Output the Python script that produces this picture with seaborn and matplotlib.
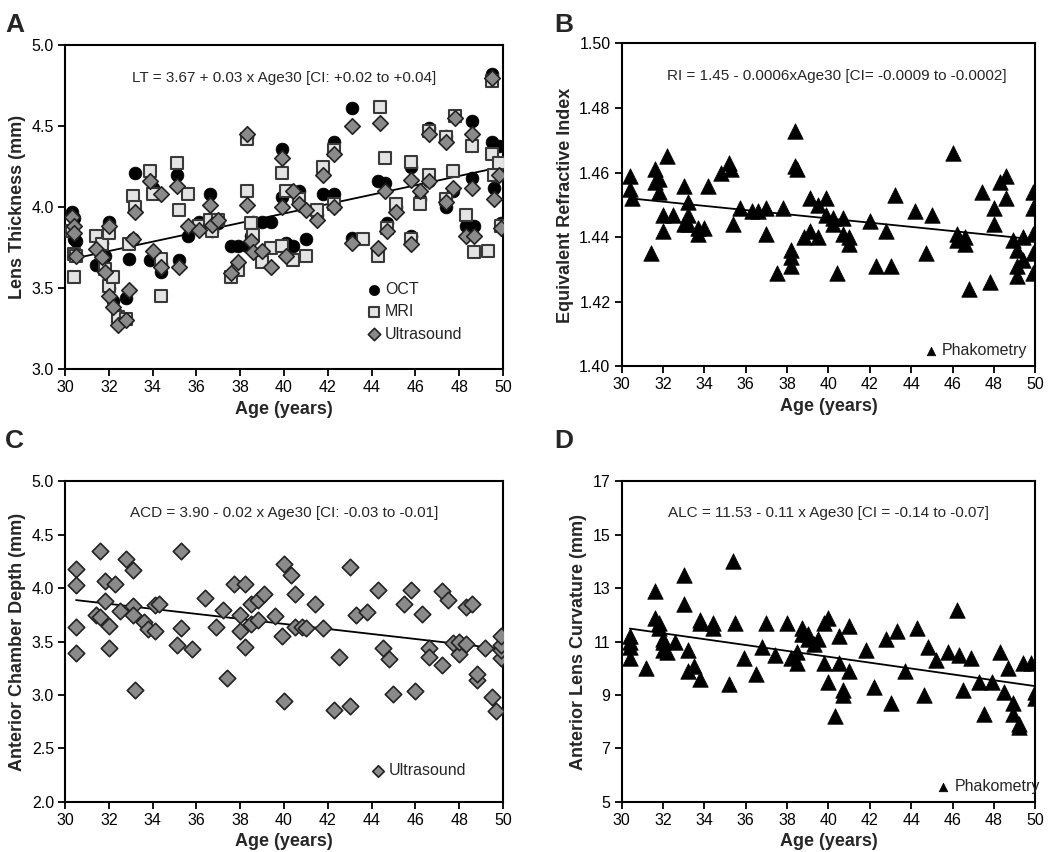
import numpy as np
import pandas as pd
import seaborn as sns
import matplotlib.pyplot as plt
from matplotlib.ticker import MultipleLocator, FormatStrFormatter

nan = np.nan

# Panel A - lens thickness (mm), one entry per subject
age_a = [30.3, 30.4, 30.4, 30.5, 31.4, 31.7, 31.8, 32.0, 32.0, 32.2, 32.4, 32.8, 32.9, 33.1, 33.2,
         33.9, 34.0, 34.4, 34.4, 35.1, 35.2, 35.6, 36.1, 36.6, 36.7, 37.0, 37.6, 37.9, 38.3, 38.3,
         38.5, 38.6, 39.0, 39.4, 39.9, 39.9, 40.1, 40.4, 40.7, 41.0, 41.5, 41.8, 42.3, 42.3, 43.1,
         43.1, 43.6, 44.3, 44.4, 44.6, 44.7, 45.1, 45.8, 45.8, 46.2, 46.6, 46.6, 47.4, 47.4, 47.7,
         47.8, 48.3, 48.6, 48.6, 48.7, 49.3, 49.5, 49.5, 49.6, 49.8, 49.9]
oct_lt = [3.97, 3.93, 3.80, 3.79, 3.64, 3.78, 3.70, 3.91, 3.50, 3.42, 3.33, 3.44, 3.68, 3.80, 4.21,
          3.67, 4.12, 3.65, 3.60, 4.20, 3.67, 3.82, 3.91, 4.08, 3.85, 3.90, 3.76, 3.76, 4.43, 3.76,
          3.82, 3.91, 3.91, 3.91, 4.36, 4.06, 3.78, 3.76, 4.10, 3.80, 3.95, 4.08, 4.40, 4.08, 4.61,
          3.81, nan, 4.16, nan, 4.15, 3.90, 4.00, 4.25, 3.82, 4.05, 4.49, 4.16, 4.44, 4.00, 4.10,
          nan, 3.88, 4.53, 4.18, 3.88, nan, 4.82, 4.40, 4.12, 4.38, 3.90]
mri_lt = [3.85, 3.71, 3.57, 3.70, 3.82, 3.77, 3.62, 3.84, 3.51, 3.57, 3.32, 3.31, 3.77, 4.07, 4.00,
          4.22, 4.08, 3.45, 3.68, 4.27, 3.98, 4.08, 3.88, 3.92, 3.85, 3.92, 3.57, 3.61, 4.42, 4.10,
          3.90, 3.83, 3.66, 3.75, 4.21, 3.76, 4.10, 3.67, 4.05, 3.70, 3.98, 4.25, 4.35, 4.02, nan,
          nan, 3.80, 3.70, 4.62, 4.30, 3.87, 4.02, 4.28, 3.80, 4.02, 4.47, 4.20, 4.43, 4.05, 4.22,
          4.56, 3.95, nan, 4.38, 3.72, 3.73, 4.78, 4.33, 4.20, 4.27, 3.88]
us_lt = [3.94, 3.88, 3.84, 3.70, 3.74, 3.69, 3.60, 3.88, 3.45, 3.38, 3.27, 3.30, 3.49, 3.80, 3.97,
         4.16, 3.73, 3.63, 4.08, 4.13, 3.63, 3.88, 3.86, 4.01, 3.89, 3.92, 3.59, 3.66, 4.45, 4.01,
         3.79, 3.72, 3.73, 3.63, 4.30, 4.00, 3.70, 4.10, 4.02, 3.98, 3.92, 4.20, 4.33, 4.00, 4.50,
         3.78, nan, 3.75, 4.52, 4.10, 3.85, 3.97, 4.17, 3.77, 4.10, 4.45, 4.16, 4.40, 4.03, 4.12,
         4.55, 3.82, 4.45, 4.12, 3.82, nan, 4.80, nan, 4.05, 4.20, 3.87]

# Panel B - equivalent refractive index (phakometry)
age_b = [30.4, 30.4, 30.5, 31.4, 31.6, 31.6, 31.8, 31.8, 32.0, 32.0, 32.2, 32.5, 33.0, 33.0, 33.2,
         33.2, 33.2, 33.7, 33.7, 34.0, 34.2, 34.8, 35.2, 35.3, 35.4, 35.7, 36.3, 36.6, 37.0, 37.0,
         37.5, 37.8, 38.2, 38.2, 38.2, 38.4, 38.4, 38.5, 38.8, 39.1, 39.1, 39.5, 39.5, 39.9, 39.9,
         40.2, 40.2, 40.4, 40.7, 40.7, 41.0, 41.0, 42.0, 42.3, 42.8, 43.0, 43.2, 44.2, 44.7, 45.0,
         46.0, 46.2, 46.2, 46.6, 46.6, 46.8, 47.4, 47.8, 48.0, 48.0, 48.3, 48.6, 48.6, 48.9, 49.1,
         49.1, 49.1, 49.4, 49.4, 49.9, 49.9, 49.9, 49.9, 49.9]
ri = [1.459, 1.455, 1.452, 1.435, 1.461, 1.457, 1.458, 1.454, 1.442, 1.447, 1.465, 1.447, 1.456,
      1.444, 1.451, 1.444, 1.447, 1.443, 1.441, 1.443, 1.456, 1.460, 1.463, 1.461, 1.444, 1.449,
      1.448, 1.448, 1.449, 1.441, 1.429, 1.449, 1.436, 1.434, 1.431, 1.473, 1.462, 1.461, 1.440,
      1.452, 1.442, 1.440, 1.450, 1.452, 1.447, 1.446, 1.444, 1.429, 1.446, 1.441, 1.440, 1.438,
      1.445, 1.431, 1.442, 1.431, 1.453, 1.448, 1.435, 1.447, 1.466, 1.441, 1.439, 1.440, 1.438,
      1.424, 1.454, 1.426, 1.449, 1.444, 1.457, 1.459, 1.452, 1.439, 1.428, 1.431, 1.436, 1.433,
      1.440, 1.454, 1.449, 1.441, 1.435, 1.429]

# Panel C - anterior chamber depth (ultrasound)
age_c = [30.5, 30.5, 30.5, 30.5, 31.4, 31.6, 31.6, 31.8, 31.8, 32.0, 32.0, 32.3, 32.5, 32.8, 33.1,
         33.1, 33.1, 33.2, 33.6, 33.8, 34.1, 34.1, 34.3, 35.1, 35.3, 35.3, 35.8, 36.4, 36.9, 37.2,
         37.4, 37.7, 38.0, 38.0, 38.2, 38.2, 38.5, 38.5, 38.8, 38.8, 39.1, 39.6, 39.9, 40.0, 40.0,
         40.3, 40.5, 40.5, 40.8, 41.0, 41.4, 41.8, 42.3, 42.5, 43.0, 43.0, 43.3, 43.8, 44.3, 44.5,
         44.8, 45.0, 45.5, 45.8, 46.0, 46.3, 46.6, 46.6, 47.2, 47.2, 47.5, 47.7, 48.0, 48.0, 48.3,
         48.3, 48.6, 48.8, 48.8, 49.2, 49.5, 49.7, 49.9, 49.9, 49.9, 49.9]
acd = [4.18, 4.03, 3.64, 3.39, 3.75, 4.35, 3.73, 4.07, 3.88, 3.44, 3.65, 4.04, 3.79, 4.27, 4.17,
       3.83, 3.75, 3.05, 3.68, 3.62, 3.60, 3.84, 3.85, 3.47, 4.35, 3.63, 3.43, 3.91, 3.64, 3.80,
       3.16, 4.04, 3.75, 3.60, 3.45, 4.04, 3.85, 3.66, 3.89, 3.70, 3.95, 3.74, 3.55, 2.94, 4.23,
       4.12, 3.95, 3.64, 3.64, 3.63, 3.85, 3.63, 2.86, 3.36, 4.20, 2.90, 3.75, 3.78, 3.98, 3.44,
       3.34, 3.01, 3.85, 3.98, 3.04, 3.76, 3.44, 3.36, 3.97, 3.28, 3.89, 3.49, 3.38, 3.50, 3.82,
       3.48, 3.85, 3.14, 3.20, 3.44, 2.98, 2.85, 3.35, 3.42, 3.47, 3.55]

# Panel D - anterior lens curvature (phakometry)
age_d = [30.4, 30.4, 30.4, 30.4, 31.2, 31.6, 31.6, 31.8, 31.8, 32.0, 32.0, 32.0, 32.2, 32.6, 33.0,
         33.0, 33.2, 33.2, 33.5, 33.8, 33.8, 33.8, 34.4, 34.4, 35.2, 35.4, 35.5, 35.9, 36.5, 36.8,
         37.0, 37.4, 38.0, 38.2, 38.5, 38.5, 38.7, 38.7, 39.0, 39.0, 39.3, 39.5, 39.8, 39.8, 40.0,
         40.0, 40.3, 40.5, 40.5, 40.7, 40.7, 41.0, 41.0, 41.8, 42.2, 42.8, 43.0, 43.3, 43.7, 44.3,
         44.6, 44.8, 45.2, 45.8, 46.2, 46.3, 46.5, 46.9, 47.3, 47.5, 47.9, 48.3, 48.5, 48.7, 48.9,
         48.9, 49.2, 49.2, 49.4, 49.8, 50.0, 50.0]
alc = [11.0, 11.2, 10.8, 10.4, 10.0, 11.9, 12.9, 11.7, 11.5, 11.1, 11.0, 10.7, 10.6, 11.0, 12.4,
       13.5, 9.9, 10.7, 10.1, 9.6, 11.7, 11.8, 11.7, 11.5, 9.4, 14.0, 11.7, 10.4, 9.8, 10.8,
       11.7, 10.5, 11.7, 10.4, 10.6, 10.2, 11.5, 11.3, 11.3, 11.1, 10.9, 11.1, 10.2, 11.7, 11.9,
       9.5, 8.2, 10.2, 11.2, 9.0, 9.2, 9.9, 11.6, 10.7, 9.3, 11.1, 8.7, 11.4, 9.9, 11.5,
       9.0, 10.8, 10.3, 10.6, 12.2, 10.5, 9.2, 10.4, 9.5, 8.3, 9.5, 10.6, 9.1, 10.0, 8.7,
       8.3, 7.8, 7.9, 10.2, 10.2, 9.1, 8.9]

# regression coefficients (value = b0 + b1 * (age - 30))
fit_a = (3.67, 0.029)
fit_b = (1.4523, -0.00065)
fit_c = (3.90, -0.0235)
fit_d = (11.53, -0.11)

eq_a = "LT = 3.67 + 0.03 x Age30 [CI: +0.02 to +0.04]"
eq_b = "RI = 1.45 - 0.0006xAge30 [CI= -0.0009 to -0.0002]"
eq_c = "ACD = 3.90 - 0.02 x Age30 [CI: -0.03 to -0.01]"
eq_d = "ALC = 11.53 - 0.11 x Age30 [CI = -0.14 to -0.07]"

ticks_d = [5, 7, 9, 11, 13, 15, 17]

sns.set_style("ticks")
plt.rcParams['font.family'] = ['Liberation Sans', 'DejaVu Sans']

fig = plt.figure(figsize=(10.5, 8.52), dpi=100)
axA = fig.add_axes([0.062, 0.567, 0.417, 0.380])
axB = fig.add_axes([0.592, 0.570, 0.394, 0.379])
axC = fig.add_axes([0.062, 0.059, 0.417, 0.376])
axD = fig.add_axes([0.592, 0.059, 0.394, 0.376])


def style_axes(ax, ylim, ystep, yfmt, ylabel):
    ax.set_xlim(30, 50)
    ax.xaxis.set_major_locator(MultipleLocator(2))
    ax.set_ylim(*ylim)
    ax.yaxis.set_major_locator(MultipleLocator(ystep))
    ax.yaxis.set_major_formatter(FormatStrFormatter(yfmt))
    for s in ax.spines.values():
        s.set_linewidth(1.5)
        s.set_color("black")
    ax.tick_params(direction="out", length=5, width=1.3, labelsize=11.5, colors="black", pad=3)
    ax.set_xlabel("Age (years)", fontsize=13, fontweight="bold")
    ax.set_ylabel(ylabel, fontsize=13, fontweight="bold")


def fit_line(ax, ages, coef):
    xs = np.array([min(ages), max(ages)])
    ys = coef[0] + coef[1] * (xs - 30)
    sns.lineplot(x=xs, y=ys, color="black", lw=1.3, ax=ax)


# A
sns.scatterplot(x=age_a, y=oct_lt, marker="o", s=85, color="black", edgecolor="black",
                linewidth=0.5, label="OCT", ax=axA, zorder=3)
sns.scatterplot(x=age_a, y=mri_lt, marker="s", s=80, color="#e4e4e4", edgecolor="#3a3a3a",
                linewidth=1.5, label="MRI", ax=axA, zorder=4)
sns.scatterplot(x=age_a, y=us_lt, marker="D", s=62, color="#8a8a8a", edgecolor="#222222",
                linewidth=1.2, label="Ultrasound", ax=axA, zorder=5)
fit_line(axA, age_a, fit_a)
style_axes(axA, (3.0, 5.0), 0.5, "%.1f", "Lens Thickness (mm)")
axA.text(0.5, 0.9, eq_a, transform=axA.transAxes, ha="center", va="center", fontsize=11)
axA.legend(loc="lower left", bbox_to_anchor=(0.65, 0.04), frameon=False, fontsize=11.5,
           handletextpad=0.1, labelspacing=0.45, handlelength=1.2, markerscale=0.8)

# B
sns.scatterplot(x=age_b, y=ri, marker="^", s=125, color="black", edgecolor="black",
                linewidth=0.5, label="Phakometry", ax=axB, zorder=3)
fit_line(axB, age_b, fit_b)
style_axes(axB, (1.40, 1.50), 0.02, "%.2f", "Equivalent Refractive Index")
axB.text(0.52, 0.9, eq_b, transform=axB.transAxes, ha="center", va="center", fontsize=11)
axB.legend(loc="lower left", bbox_to_anchor=(0.69, -0.02), frameon=False, fontsize=11.5,
           handletextpad=0.1, handlelength=1.2, markerscale=0.55)

# C
sns.scatterplot(x=age_c, y=acd, marker="D", s=70, color="#8a8a8a", edgecolor="#222222",
                linewidth=1.2, label="Ultrasound", ax=axC, zorder=3)
fit_line(axC, age_c, fit_c)
style_axes(axC, (2.0, 5.0), 0.5, "%.1f", "Anterior Chamber Depth (mm)")
axC.text(0.5, 0.9, eq_c, transform=axC.transAxes, ha="center", va="center", fontsize=11)
axC.legend(loc="lower left", bbox_to_anchor=(0.66, 0.03), frameon=False, fontsize=11.5,
           handletextpad=0.1, handlelength=1.2, markerscale=0.7)

# D
sns.scatterplot(x=age_d, y=alc, marker="^", s=125, color="black", edgecolor="black",
                linewidth=0.5, label="Phakometry", ax=axD, zorder=3)
fit_line(axD, age_d, fit_d)
style_axes(axD, (5, 17), 2, "%d", "Anterior Lens Curvature (mm)")
axD.set_yticks(ticks_d)
axD.text(0.5, 0.9, eq_d, transform=axD.transAxes, ha="center", va="center", fontsize=11)
axD.legend(loc="lower left", bbox_to_anchor=(0.72, -0.02), frameon=False, fontsize=11.5,
           handletextpad=0.1, handlelength=1.2, markerscale=0.55)

for letter, (x, y) in zip("ABCD", [(0.005, 0.985), (0.528, 0.985), (0.005, 0.497), (0.528, 0.497)]):
    fig.text(x, y, letter, fontsize=19, fontweight="bold", ha="left", va="top")

fig.savefig("out.png", dpi=100)
